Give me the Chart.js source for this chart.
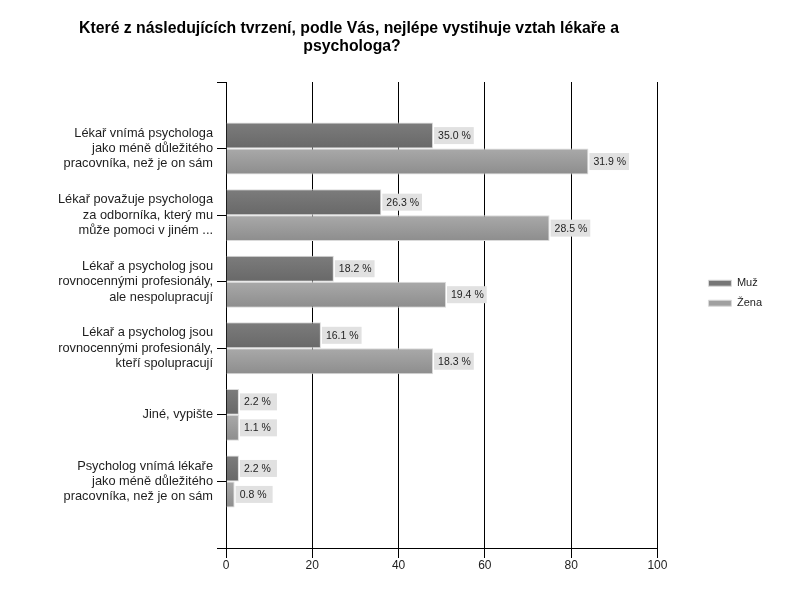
<!DOCTYPE html>
<html>
<head>
<meta charset="utf-8">
<script src="https://cdn.jsdelivr.net/npm/chart.js@4.4.0/dist/chart.umd.min.js"></script>
<style>
  html, body { margin: 0; padding: 0; background: #fff; }
  #wrap { width: 800px; height: 600px; }
</style>
</head>
<body>
<div id="wrap"><canvas id="myBarChart" width="800" height="600"></canvas></div>
<script>
const titleLines = ["Které z následujících tvrzení, podle Vás, nejlépe vystihuje vztah lékaře a", "psychologa?"];
const categories = [
  ["Lékař vnímá psychologa", "jako méně důležitého", "pracovníka, než je on sám"],
  ["Lékař považuje psychologa", "za odborníka, který mu", "může pomoci v jiném ..."],
  ["Lékař a psycholog jsou", "rovnocennými profesionály,", "ale nespolupracují"],
  ["Lékař a psycholog jsou", "rovnocennými profesionály,", "kteří spolupracují"],
  "Jiné, vypište",
  ["Psycholog vnímá lékaře", "jako méně důležitého", "pracovníka, než je on sám"]
];
const seriesNames = ["Muž", "Žena"];
// bar lengths (counts), labels show the share in %
const muzValues = [48, 36, 25, 22, 3, 3];
const zenaValues = [84, 75, 51, 48, 3, 2];
const muzLabels = ["35.0 %", "26.3 %", "18.2 %", "16.1 %", "2.2 %", "2.2 %"];
const zenaLabels = ["31.9 %", "28.5 %", "19.4 %", "18.3 %", "1.1 %", "0.8 %"];
const xMin = 0, xMax = 100, xStep = 20;

const fontFam = '"Liberation Sans", Arial, sans-serif';
Chart.defaults.font.family = fontFam;
Chart.defaults.color = "#1e1e1e";

// empty slot above and below so the categories sit like in the original
const pad = (arr) => [null, ...arr, null];
const yLabels = ["", ...categories, ""];

// vertical gradient on each bar
const barShade = {
  id: "barShade",
  beforeDatasetsDraw(chart) {
    const ctx = chart.ctx;
    chart.data.datasets.forEach((ds, di) => {
      const meta = chart.getDatasetMeta(di);
      meta.data.forEach((el) => {
        if (!el || isNaN(el.y) || !el.height) return;
        const g = ctx.createLinearGradient(0, el.y - el.height / 2, 0, el.y + el.height / 2);
        g.addColorStop(0, ds.shadeTop);
        g.addColorStop(1, ds.shadeBottom);
        el.options = Object.assign({}, el.options, { backgroundColor: g });
      });
    });
  }
};

// grey boxes with the percentage next to each bar
const valueTags = {
  id: "valueTags",
  afterDatasetsDraw(chart) {
    const ctx = chart.ctx;
    ctx.save();
    ctx.font = "10.5px " + fontFam;
    ctx.textBaseline = "middle";
    ctx.textAlign = "left";
    chart.data.datasets.forEach((ds, di) => {
      const meta = chart.getDatasetMeta(di);
      meta.data.forEach((el, i) => {
        const txt = ds.tags[i];
        if (!txt) return;
        const w = ctx.measureText(txt).width;
        const x0 = el.x + 1;
        ctx.fillStyle = "#e1e1e1";
        ctx.fillRect(x0, el.y - 8.5, Math.max(37, w + 7), 17);
        ctx.fillStyle = "#1e1e1e";
        ctx.fillText(txt, x0 + 4, el.y + 0.5);
      });
    });
    ctx.restore();
  }
};

// title and the x axis line
const chartTitle = {
  id: "chartTitle",
  afterDraw(chart) {
    const ctx = chart.ctx;
    const a = chart.chartArea;
    ctx.save();
    ctx.strokeStyle = "#000";
    ctx.lineWidth = 1;
    ctx.beginPath();
    ctx.moveTo(a.left, Math.round(a.bottom) + 0.5);
    ctx.lineTo(a.right + 0.5, Math.round(a.bottom) + 0.5);
    ctx.stroke();
    ctx.font = 'bold 15.8px ' + fontFam;
    ctx.fillStyle = "#000";
    ctx.textAlign = "center";
    ctx.textBaseline = "middle";
    ctx.fillText(titleLines[0], 349, 29);
    ctx.fillText(titleLines[1], 352, 47);
    ctx.restore();
  }
};

const ctx1 = document.getElementById("myBarChart").getContext("2d");
const myBarChart = new Chart(ctx1, {
  type: "bar",
  data: {
    labels: yLabels,
    datasets: [
      {
        label: seriesNames[0],
        data: pad(muzValues),
        tags: pad(muzLabels),
        backgroundColor: "#767676",
        shadeTop: "#7c7c7c",
        shadeBottom: "#686868",
        borderColor: "#dadada",
        borderWidth: 1,
        categoryPercentage: 0.78,
        barPercentage: 1.0
      },
      {
        label: seriesNames[1],
        data: pad(zenaValues),
        tags: pad(zenaLabels),
        backgroundColor: "#a0a0a0",
        shadeTop: "#a9a9a9",
        shadeBottom: "#8d8d8d",
        borderColor: "#dadada",
        borderWidth: 1,
        categoryPercentage: 0.78,
        barPercentage: 1.0
      }
    ]
  },
  options: {
    indexAxis: "y",
    responsive: false,
    maintainAspectRatio: false,
    animation: false,
    layout: { padding: { top: 14, right: 28, bottom: 27.6, left: 0 } },
    scales: {
      x: {
        type: "linear",
        position: "bottom",
        min: xMin,
        max: xMax,
        ticks: { stepSize: xStep, font: { size: 12 }, color: "#1e1e1e", padding: 0 },
        grid: { color: "#000", lineWidth: 1, tickLength: 10 },
        border: { display: true, color: "#000", width: 1 }
      },
      y: {
        type: "category",
        offset: false,
        ticks: { autoSkip: false, font: { size: 12.8, lineHeight: 1.2 }, color: "#1e1e1e", padding: 4 },
        grid: { offset: false, drawOnChartArea: false, color: "#000", tickLength: 9 },
        border: { display: true, color: "#000", width: 1 },
        afterFit(s) { s.width = 226; }
      },
      topSpace: {
        type: "linear",
        axis: "x",
        position: "top",
        display: true,
        ticks: { display: false },
        grid: { display: false },
        border: { display: false },
        afterFit(s) { s.height = 68; }
      },
      rightSpace: {
        type: "linear",
        axis: "y",
        position: "right",
        display: true,
        ticks: { display: false },
        grid: { display: false },
        border: { display: false },
        afterFit(s) { s.width = 42; }
      }
    },
    plugins: {
      tooltip: { enabled: false },
      title: { display: false },
      legend: {
        position: "right",
        labels: {
          boxWidth: 23,
          boxHeight: 6,
          padding: 9,
          font: { size: 11 },
          color: "#1e1e1e"
        }
      }
    }
  },
  plugins: [barShade, valueTags, chartTitle]
});
</script>
</body>
</html>
